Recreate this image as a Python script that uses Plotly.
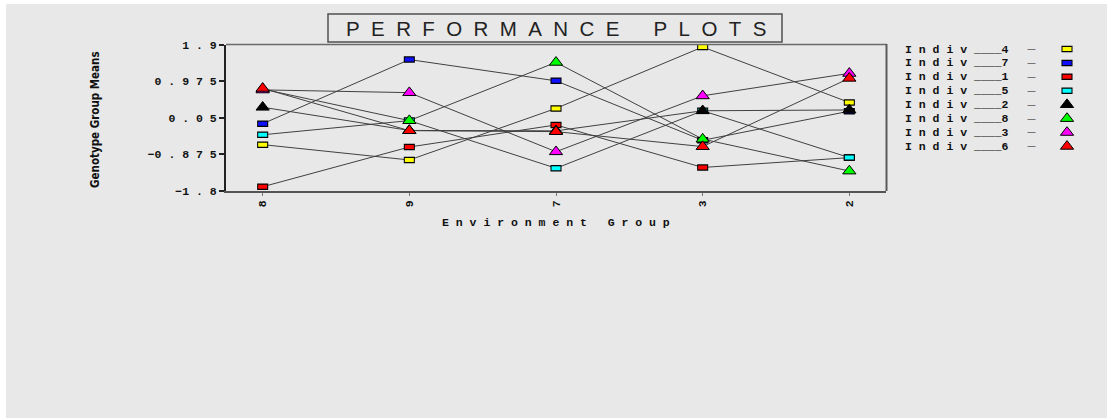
import plotly.graph_objects as go

# ---- data -------------------------------------------------------------
environments = ["8", "9", "7", "3", "2"]

indiv_names = ["Indiv___4", "Indiv___7", "Indiv___1", "Indiv___5",
               "Indiv___2", "Indiv___8", "Indiv___3", "Indiv___6"]

indiv_4 = [-0.63, -1.02, 0.29, 1.85, 0.44]
indiv_7 = [-0.10, 1.53, 0.99, -0.52, 0.22]
indiv_1 = [-1.70, -0.69, -0.13, -1.21, -0.96]
indiv_5 = [-0.38, -0.02, -1.23, 0.23, -0.96]
indiv_2 = [0.32, -0.27, -0.28, 0.23, 0.25]
indiv_8 = [0.78, -0.02, 1.46, -0.49, -1.30]
indiv_3 = [0.76, 0.69, -0.81, 0.61, 1.18]
indiv_6 = [0.80, -0.275, -0.30, -0.68, 1.055]

series_values = [indiv_4, indiv_7, indiv_1, indiv_5,
                 indiv_2, indiv_8, indiv_3, indiv_6]

y_tick_values = [1.9, 0.975, 0.05, -0.875, -1.8]

# ---- styling ----------------------------------------------------------
fill_colors = ["#ffff00", "#1010ff", "#ff0000", "#00ffff",
               "#000000", "#00ff00", "#ff00ff", "#ff0000"]
shapes_kind = ["box", "box", "box", "box", "tri", "tri", "tri", "tri"]

W, H = 1107, 418
BG = "#e8e8e8"
MONO = "Liberation Mono, DejaVu Sans Mono, monospace"


def fx(px):
    return px / W


def fy(py):
    return 1 - py / H


def spaced(text):
    """Letter-spaced label in the style of the old plotting terminal."""
    text = str(text)
    sign = ""
    if text.startswith("-"):
        sign, text = "\u2212", text[1:]
    return sign + " ".join(text)


def legend_label(name):
    base, num = name.split("___")
    return " ".join(base) + " ____" + num


fig = go.Figure()

# connecting lines first so every marker sits above them
for name, vals in zip(indiv_names, series_values):
    fig.add_trace(go.Scatter(
        x=environments, y=vals, mode="lines", name=name,
        line=dict(color="#404040", width=1), hoverinfo="skip",
        showlegend=False))

# markers: boxes are built from two stacked wide bars (outline + fill)
for name, vals, col, kind in zip(indiv_names, series_values, fill_colors, shapes_kind):
    if kind == "box":
        fig.add_trace(go.Scatter(
            x=environments, y=vals, mode="markers", showlegend=False,
            marker=dict(symbol="line-ew", size=7.9, color="#000000",
                        line=dict(color="#000000", width=6.5))))
        fig.add_trace(go.Scatter(
            x=environments, y=vals, mode="markers", name=name, showlegend=False,
            marker=dict(symbol="line-ew", size=6.4, color=col,
                        line=dict(color=col, width=4))))
    else:
        fig.add_trace(go.Scatter(
            x=environments, y=vals, mode="markers", name=name, showlegend=False,
            marker=dict(symbol="triangle-up", size=11.5, color=col,
                        line=dict(color="#000000", width=1))))

# ---- legend built on a small auxiliary axis --------------------------
rows = list(range(len(indiv_names)))
box_rows = [r for r in rows if shapes_kind[r] == "box"]
tri_rows = [r for r in rows if shapes_kind[r] == "tri"]
fig.add_trace(go.Scatter(
    x=[0] * len(box_rows), y=box_rows, xaxis="x2", yaxis="y2",
    mode="markers", showlegend=False, hoverinfo="skip",
    marker=dict(symbol="line-ew", size=7.9, color="#000000",
                line=dict(color="#000000", width=6.5))))
fig.add_trace(go.Scatter(
    x=[0] * len(box_rows), y=box_rows, xaxis="x2", yaxis="y2",
    mode="markers", showlegend=False, hoverinfo="skip",
    marker=dict(symbol="line-ew", size=6.4,
                color=[fill_colors[r] for r in box_rows],
                line=dict(color=[fill_colors[r] for r in box_rows], width=4))))
fig.add_trace(go.Scatter(
    x=[0] * len(tri_rows), y=tri_rows, xaxis="x2", yaxis="y2",
    mode="markers", showlegend=False, hoverinfo="skip",
    marker=dict(symbol="triangle-up", size=11.5,
                color=[fill_colors[r] for r in tri_rows],
                line=dict(color="#000000", width=1))))

row0, row_step = 49.0, 13.9
annotations = []
for r, name in enumerate(indiv_names):
    yy = row0 + r * row_step
    annotations.append(dict(
        x=fx(903), y=fy(yy), xref="paper", yref="paper", xanchor="left",
        yanchor="middle", showarrow=False, text=legend_label(name),
        font=dict(family=MONO, size=11.5, color="#111111", weight="bold")))
    annotations.append(dict(
        x=fx(1031), y=fy(yy), xref="paper", yref="paper", xanchor="center",
        yanchor="middle", showarrow=False, text="\u2014",
        font=dict(family="DejaVu Sans", size=9, color="#111111")))

# axis titles
annotations.append(dict(
    x=fx(95), y=fy(120), xref="paper", yref="paper", textangle=-90,
    xanchor="center", yanchor="middle",
    showarrow=False, text="Genotype Group Means",
    font=dict(family="DejaVu Sans Condensed, DejaVu Sans", size=11.5,
              color="#111111", weight="bold")))
annotations.append(dict(
    x=fx(556), y=fy(222), xref="paper", yref="paper", showarrow=False,
    xanchor="center", yanchor="middle",
    text=spaced("Environment") + "   " + spaced("Group"),
    font=dict(family=MONO, size=11.5, color="#111111", weight="bold")))

# boxed title
title_text = "\u00a0\u00a0".join("PERFORMANCE") + "\u00a0" * 6 + "\u00a0\u00a0".join("PLOTS")
annotations.append(dict(
    x=fx(556), y=fy(28.5), xref="paper", yref="paper", showarrow=False,
    xanchor="center", yanchor="middle",
    text=title_text,
    font=dict(family="Liberation Sans, Arial", size=20.5, color="#222222")))

shapes = [
    # white edge strips of the canvas
    dict(type="rect", xref="paper", yref="paper", x0=0, x1=fx(6), y0=0, y1=1,
         fillcolor="#ffffff", line=dict(width=0), layer="below"),
    dict(type="rect", xref="paper", yref="paper", x0=0, x1=1, y0=fy(4), y1=1,
         fillcolor="#ffffff", line=dict(width=0), layer="below"),
    # title frame
    dict(type="rect", xref="paper", yref="paper", x0=fx(328), x1=fx(782),
         y0=fy(42), y1=fy(14), line=dict(color="#505050", width=1.5)),
    # top and right edges of the plotting frame
    dict(type="line", xref="paper", yref="paper", x0=fx(226), x1=fx(887),
         y0=fy(44.5), y1=fy(44.5), line=dict(color="#6a6a6a", width=1.5)),
    dict(type="line", xref="paper", yref="paper", x0=fx(886.5), x1=fx(886.5),
         y0=fy(44), y1=fy(191), line=dict(color="#5a5a5a", width=2)),
]

fig.update_layout(
    width=W, height=H,
    margin=dict(l=0, r=0, t=0, b=0, pad=0, autoexpand=False),
    paper_bgcolor=BG, plot_bgcolor=BG,
    showlegend=False,
    annotations=annotations,
    shapes=shapes,
    xaxis=dict(
        domain=[fx(226), fx(886)], type="category", automargin=False,
        categoryorder="array", categoryarray=environments,
        range=[-0.25, 4.25], showgrid=False, zeroline=False,
        showline=True, linecolor="#555555", linewidth=2,
        ticks="outside", ticklen=3, tickwidth=1, tickcolor="#777777",
        tickangle=-90,
        tickfont=dict(family=MONO, size=11.5, color="#111111", weight="bold"),
        fixedrange=True),
    yaxis=dict(
        domain=[fy(190.7), fy(45)], range=[-1.8, 1.9], automargin=False,
        showgrid=False, zeroline=False,
        showline=True, linecolor="#222222", linewidth=2,
        ticks="outside", ticklen=5, tickwidth=1.5, tickcolor="#222222",
        tickvals=y_tick_values,
        ticktext=[spaced(f"{v:g}") for v in y_tick_values],
        tickfont=dict(family=MONO, size=11.5, color="#111111", weight="bold"),
        fixedrange=True),
    xaxis2=dict(domain=[fx(1057), fx(1077)], range=[-1, 1], visible=False,
                automargin=False, fixedrange=True),
    yaxis2=dict(domain=[fy(row0 + 7.5 * row_step), fy(row0 - 0.5 * row_step)],
                range=[7.5, -0.5], visible=False, automargin=False,
                fixedrange=True),
)

fig.write_html("out.html")
